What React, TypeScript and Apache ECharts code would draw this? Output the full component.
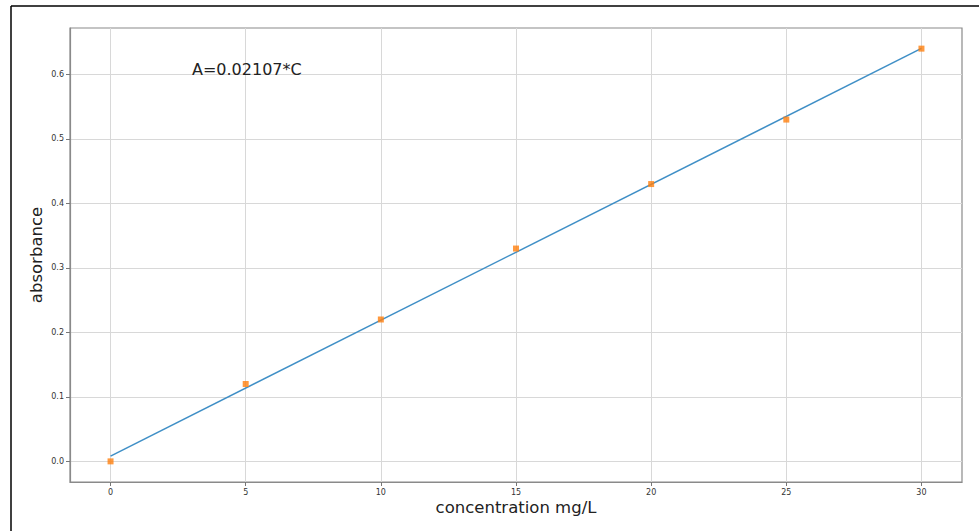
import React, { useEffect, useRef } from "react";
import * as echarts from "echarts";

const concentrations = [0, 5, 10, 15, 20, 25, 30];
const absorbances = [0.0, 0.12, 0.22, 0.33, 0.43, 0.53, 0.64];
const fitX = [0, 30];
const fitY = [0.0082, 0.6403];
const xTicks = [0, 5, 10, 15, 20, 25, 30];
const yTicks = [0, 0.1, 0.2, 0.3, 0.4, 0.5, 0.6];
const equationText = "A=0.02107*C";
const xName = "concentration mg/L";
const yName = "absorbance";

export default function App() {
  const ref = useRef<HTMLDivElement>(null);
  useEffect(() => {
    if (!ref.current) return;
    const chart = echarts.init(ref.current, undefined, { renderer: "svg" });
    const font = "DejaVu Sans";
    chart.setOption({
      animation: false,
      backgroundColor: "#ffffff",
      grid: {
        left: 70,
        top: 28,
        right: 17,
        bottom: 49,
        show: true,
        borderColor: "#8a8a8a",
        borderWidth: 1.2,
        containLabel: false,
      },
      xAxis: {
        type: "value",
        min: -1.5,
        max: 31.5,
        name: xName,
        nameLocation: "middle",
        nameGap: 17,
        nameMoveOverlap: false,
        nameTextStyle: { fontFamily: font, fontSize: 16.5, color: "#222" },
        axisLine: { show: true, onZero: false, lineStyle: { color: "#8a8a8a", width: 1.2 } },
        axisTick: {
          show: true,
          length: 4,
          customValues: xTicks,
          lineStyle: { color: "#777" },
        },
        axisLabel: {
          customValues: xTicks,
          fontFamily: font,
          fontSize: 8,
          color: "#333",
          margin: 6,
        },
        splitLine: { show: true, lineStyle: { color: "#d8d8d8", width: 1 } },
      },
      yAxis: {
        type: "value",
        min: -0.032,
        max: 0.672,
        name: yName,
        nameLocation: "middle",
        nameGap: 25,
        nameMoveOverlap: false,
        nameTextStyle: { fontFamily: font, fontSize: 16.5, color: "#222" },
        axisLine: { show: true, onZero: false, lineStyle: { color: "#8a8a8a", width: 1.2 } },
        axisTick: {
          show: true,
          length: 4,
          customValues: yTicks,
          lineStyle: { color: "#777" },
        },
        axisLabel: {
          customValues: yTicks,
          fontFamily: font,
          fontSize: 8,
          color: "#333",
          margin: 6,
          formatter: (v: number) => v.toFixed(1),
        },
        splitLine: { show: true, lineStyle: { color: "#d8d8d8", width: 1 } },
      },
      series: [
        {
          type: "line",
          data: fitX.map((x, i) => [x, fitY[i]]),
          showSymbol: false,
          symbol: "none",
          lineStyle: { color: "#3f8fc6", width: 1.5 },
          z: 2,
        },
        {
          type: "scatter",
          data: concentrations.map((x, i) => [x, absorbances[i]]),
          symbol: "rect",
          symbolSize: 6,
          itemStyle: { color: "#ff7f0e" },
          z: 3,
        },
      ],
      graphic: [
        {
          type: "text",
          left: 192,
          top: 61,
          style: {
            text: equationText,
            fontFamily: font,
            fontSize: 16,
            fill: "#222",
          },
          z: 10,
        },
        {
          type: "line",
          shape: { x1: 11, y1: 6, x2: 979, y2: 6 },
          style: { stroke: "#000", lineWidth: 1.5 },
          z: 10,
        },
        {
          type: "line",
          shape: { x1: 11, y1: 6, x2: 11, y2: 531 },
          style: { stroke: "#000", lineWidth: 1.5 },
          z: 10,
        },
      ],
    });
    return () => chart.dispose();
  }, []);
  return (
    <div
      ref={ref}
      style={{ position: "fixed", left: 0, top: 0, width: 979, height: 531 }}
    />
  );
}
